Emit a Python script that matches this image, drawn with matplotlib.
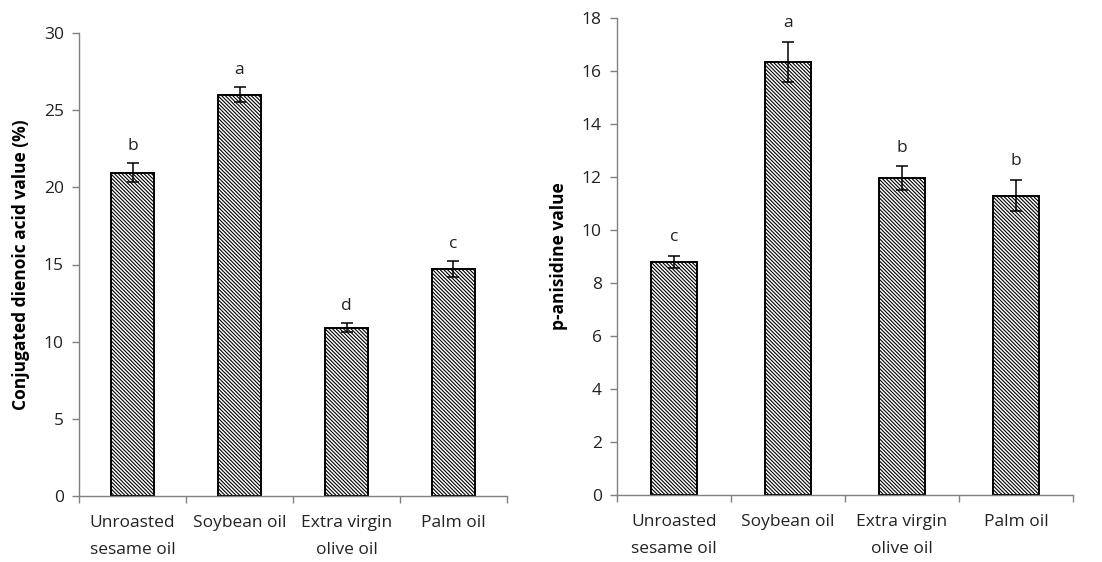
import matplotlib.pyplot as plt
import numpy as np

plt.rcParams['font.family'] = ['Open Sans', 'DejaVu Sans']
plt.rcParams['hatch.linewidth'] = 0.8

oils = ['Unroasted\nsesame oil', 'Soybean oil', 'Extra virgin\nolive oil', 'Palm oil']

cd_mean = [20.95, 26.0, 10.9, 14.7]
cd_err = [0.6, 0.5, 0.3, 0.5]
cd_letters = ['b', 'a', 'd', 'c']

pa_mean = [8.8, 16.35, 11.95, 11.3]
pa_err = [0.22, 0.75, 0.45, 0.6]
pa_letters = ['c', 'a', 'b', 'b']

fig = plt.figure(figsize=(11.02, 5.62), dpi=100)
ax1 = fig.add_axes([79 / 1102, 1 - 496 / 562, 428 / 1102, 463 / 562])
ax2 = fig.add_axes([617 / 1102, 1 - 495 / 562, 456 / 1102, 477 / 562])


def draw(ax, mean, err, letters, ymax, step, ylabel, off):
    x = np.arange(len(mean))
    ax.bar(x, mean, width=0.41, color='white', edgecolor='black', linewidth=1.4,
           hatch='\\' * 9)
    ax.errorbar(x, mean, yerr=err, fmt='none', ecolor='black', elinewidth=1.1,
                capsize=4.5, capthick=1.1)
    for xi, m, e, t in zip(x, mean, err, letters):
        ax.text(xi, m + e + off, t, ha='center', va='bottom', fontsize=12.5, color='#222222')
    ax.set_xlim(-0.5, len(mean) - 0.5)
    ax.set_ylim(0, ymax)
    ax.set_yticks(np.arange(0, ymax + 0.1, step))
    ax.set_xticks(x)
    ax.set_xticklabels(oils, fontsize=12.5, color='#222222', linespacing=1.85)
    ax.set_xticks(np.arange(-0.5, len(mean), 1), minor=True)
    ax.tick_params(axis='x', which='major', length=0, pad=14)
    ax.tick_params(axis='x', which='minor', length=5, color='#808080', width=1)
    ax.tick_params(axis='y', length=5, color='#808080', width=1, labelsize=12.5,
                   labelcolor='#222222', pad=6)
    for s in ['top', 'right']:
        ax.spines[s].set_visible(False)
    for s in ['left', 'bottom']:
        ax.spines[s].set_color('#808080')
        ax.spines[s].set_linewidth(1)
    ax.set_ylabel(ylabel, fontsize=12.5, fontweight='bold', labelpad=10)


draw(ax1, cd_mean, cd_err, cd_letters, 30, 5, 'Conjugated dienoic acid value (%)', 0.6)
draw(ax2, pa_mean, pa_err, pa_letters, 18, 2, 'p-anisidine value', 0.4)

fig.savefig('out.png', dpi=100)
